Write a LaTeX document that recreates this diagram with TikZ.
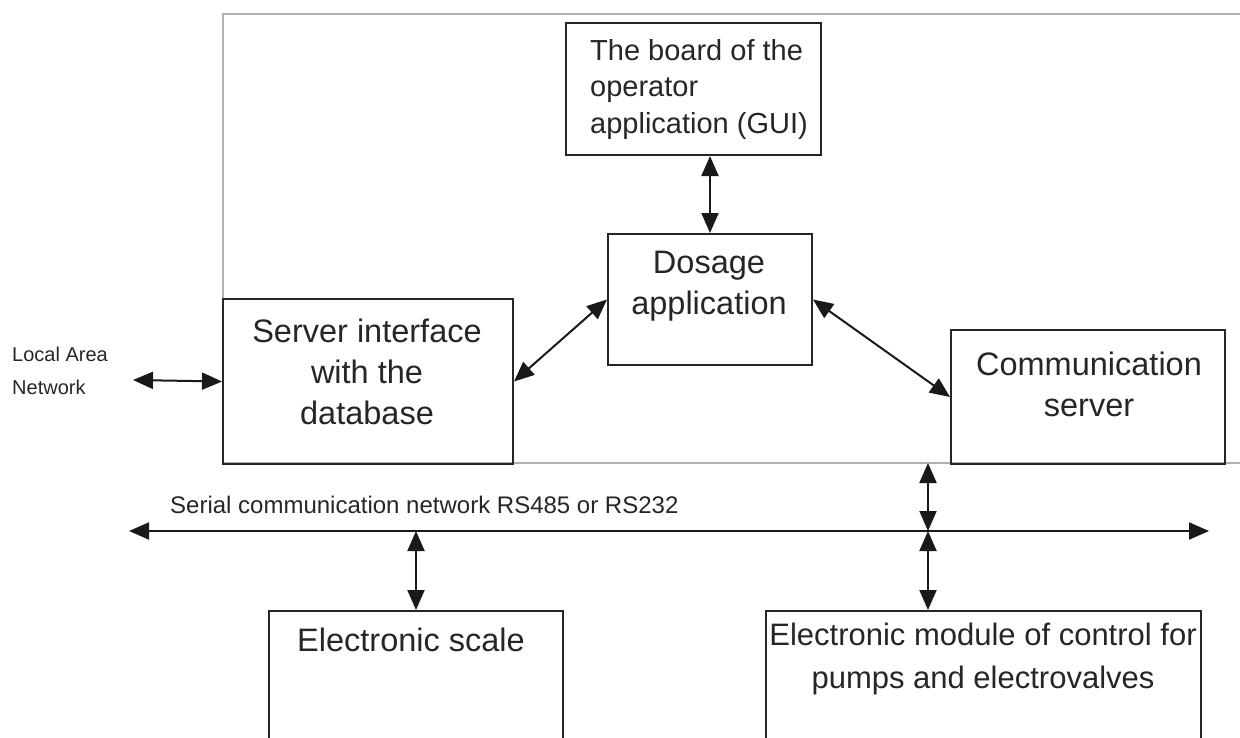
\documentclass[tikz,border=0pt]{standalone}
\usepackage{fontspec}
\setmainfont{Liberation Sans}
\usetikzlibrary{positioning,arrows.meta,calc}

\begin{document}
\begin{tikzpicture}[x=1pt, y=-1pt, line cap=round,
    box/.style={draw=black!85, line width=2pt, rectangle, inner sep=0pt, anchor=north west},
    link/.style={{Triangle[length=20pt,width=17pt]}-{Triangle[length=20pt,width=17pt]}, line width=2pt, draw=black!90},
    big/.style={font=\fontsize{32.5}{41}\selectfont, align=center, inner sep=0pt, text=black!85},
    small/.style={font=\fontsize{20}{33}\selectfont, align=left, inner sep=0pt, anchor=west, text=black!85}]
  \useasboundingbox (0,0) rectangle (1240,737);
  \clip (0,0) rectangle (1240,737);

  % Frame of the computer
  \draw[gray!60, line width=2pt] (1260,14) -- (223,14) -- (223,463) -- (1260,463);

  % Boxes
  \node[box, minimum width=255pt, minimum height=132pt] (board)  at (565,22)  {};
  \node[box, minimum width=204pt, minimum height=131pt] (dosage) at (607,233) {};
  \node[box, minimum width=290pt, minimum height=165pt] (server) at (222,298) {};
  \node[box, minimum width=274pt, minimum height=134pt] (comm)   at (950,329) {};
  \node[box, minimum width=294pt, minimum height=160pt] (scale)  at (268,610) {};
  \node[box, minimum width=435pt, minimum height=160pt] (module) at (765,610) {};

  % Texts
  \node[font=\fontsize{29}{36.5}\selectfont, align=left, inner sep=0pt, anchor=west, text=black!85]
    (board-t) at (590,89) {The board of the\\operator\\application (GUI)};
  \node[big] (dosage-t) at (709,286)  {Dosage\\application};
  \node[big] (server-t) at (367,372)  {Server interface\\with the\\database};
  \node[big] (comm-t)   at (1089,384) {Communication\\server};
  \node[big] (scale-t)  at (411,640)  {Electronic scale};
  \node[big, font=\fontsize{31}{43}\selectfont] (module-t) at (983,659) {Electronic module of control for\\pumps and electrovalves};
  \node[small] (lan-t)    at (12,371)  {Local Area\\Network};
  \node[small, font=\fontsize{24}{30}\selectfont] (serial-t) at (170,505) {Serial communication network RS485 or RS232};

  % Free ends
  \coordinate (lan)   at (133,380);
  \coordinate (bus-l) at (129,531);
  \coordinate (bus-r) at (1209,531);
  \coordinate (frm-b) at (928,463);
  \coordinate (bus-c) at (928,531);

  % Connectors
  \draw[link] (lan) -- (server.west);
  \draw[link] (server.east) -- (dosage.west);
  \draw[link] (dosage.east) -- (comm.west);
  \draw[link] (dosage.north) -- (dosage.north |- board.south);
  \draw[link] (bus-l) -- (bus-r);
  \draw[link] (frm-b) -- (bus-c);
  \draw[link] (bus-c) -- (bus-c |- module.north);
  \draw[link] (scale.north |- bus-c) -- (scale.north);
\end{tikzpicture}
\end{document}
